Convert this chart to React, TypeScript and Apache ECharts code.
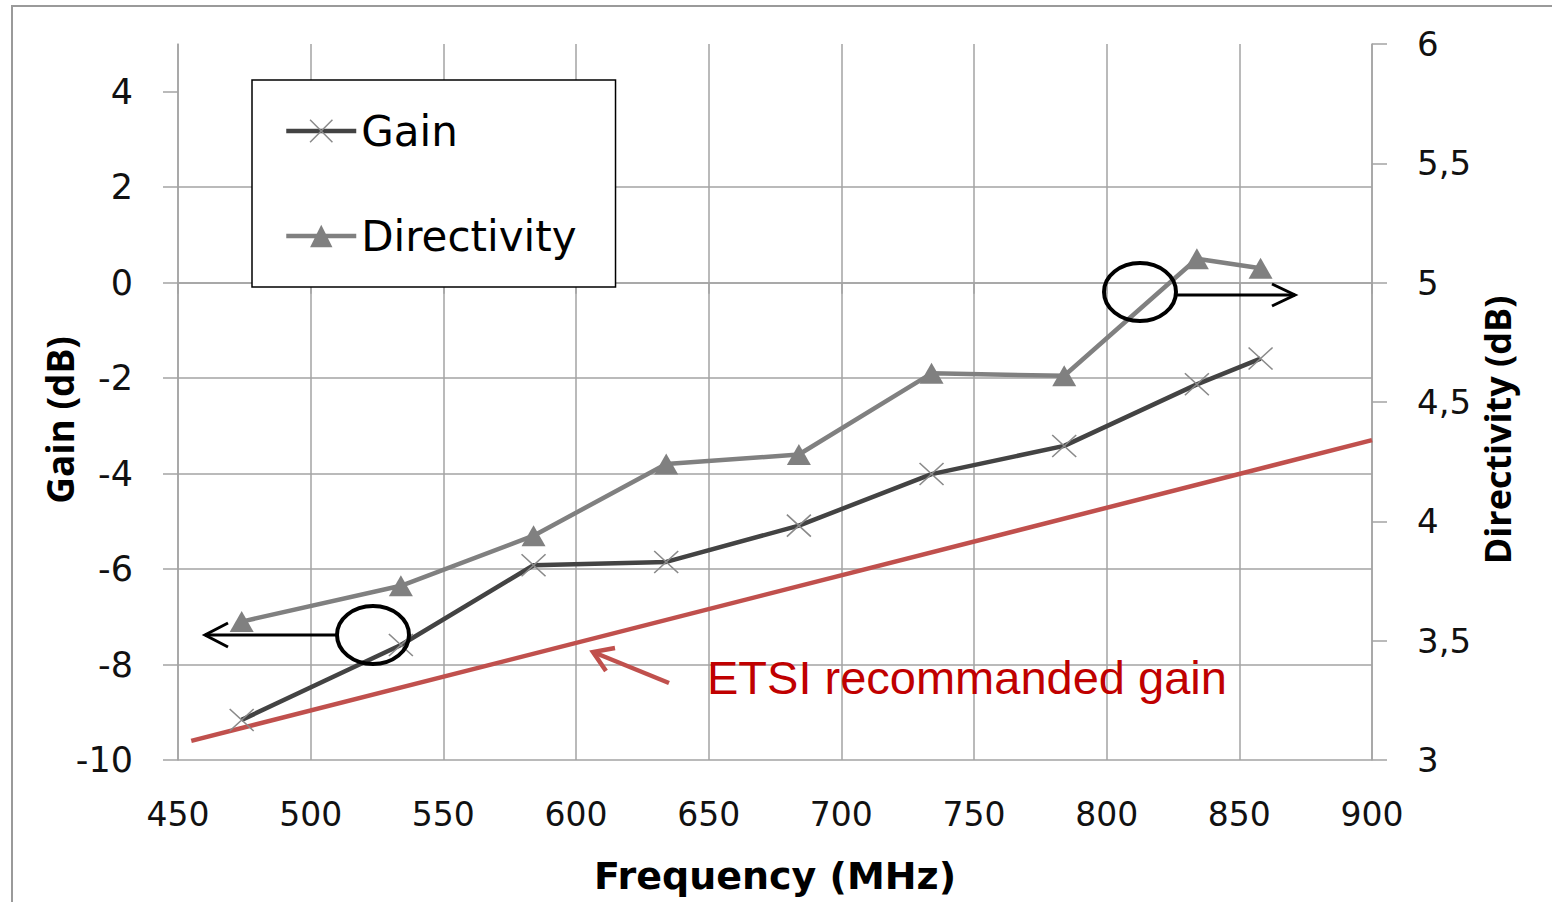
import React, { useEffect, useRef } from 'react';
import * as echarts from 'echarts';

// ---- data ----
const frequencies = [474, 534, 584, 634, 684, 734, 784, 834, 858];
const gainDb = [-9.16, -7.59, -5.92, -5.85, -5.09, -4.01, -3.42, -2.13, -1.59];
const directivityDb = [3.58, 3.73, 3.94, 4.24, 4.28, 4.62, 4.61, 5.1, 5.06];
const etsiFreq = [455, 900];
const etsiGain = [-9.6, -3.3];

const xMin = 450;
const xMax = 900;
const xStep = 50;
const gainMin = -10;
const gainMax = 5;
const gainStep = 2;
const gainTicks = [-10, -8, -6, -4, -2, 0, 2, 4];
const dirMin = 3;
const dirMax = 6;
const dirStep = 0.5;

const seriesNames = ['Gain', 'Directivity'];
const etsiLabel = 'ETSI recommanded gain';

const GRID = '#a3a3a3';
const LABEL_FONT = 'DejaVu Sans';
const GAIN_LINE = '#434343';
const GAIN_MARK = '#8a8a8a';
const DIR_COLOR = '#808080';

export default function App() {
  const ref = useRef<HTMLDivElement>(null);

  useEffect(() => {
    if (!ref.current) return;
    const chart = echarts.init(ref.current, null, { renderer: 'svg' });

    const gainData = frequencies.map((f, i) => [f, gainDb[i]]);
    const dirData = frequencies.map((f, i) => [f, directivityDb[i]]);
    const etsiData = etsiFreq.map((f, i) => [f, etsiGain[i]]);

    const axisLineStyle = { color: GRID, width: 1.5 };

    chart.setOption({
      animation: false,
      backgroundColor: '#ffffff',
      grid: { left: 178, right: 180, top: 44, bottom: 142, containLabel: false },
      legend: {
        data: [
          {
            name: seriesNames[0],
            lineStyle: { color: GAIN_LINE, width: 4.5 },
            itemStyle: { color: 'rgba(0,0,0,0)', borderColor: GAIN_MARK, borderWidth: 1.5 },
          },
          {
            name: seriesNames[1],
            lineStyle: { color: DIR_COLOR, width: 4.5 },
            itemStyle: { color: DIR_COLOR },
          },
        ],
        orient: 'vertical',
        left: 252,
        top: 80,
        itemWidth: 70,
        itemHeight: 28,
        itemGap: 55,
        padding: [26, 39, 26, 32],
        backgroundColor: '#ffffff',
        borderColor: '#000000',
        borderWidth: 1.5,
        textStyle: { fontFamily: LABEL_FONT, fontSize: 42, color: '#000', lineHeight: 50 },
      },
      xAxis: {
        type: 'value',
        min: xMin,
        max: xMax,
        interval: xStep,
        axisLine: { show: true, lineStyle: axisLineStyle },
        axisTick: { show: true, length: 11, lineStyle: axisLineStyle },
        axisLabel: { fontFamily: LABEL_FONT, fontSize: 33, color: '#111', margin: 38 },
        splitLine: { show: true, lineStyle: axisLineStyle },
        name: 'Frequency (MHz)',
        nameLocation: 'middle',
        nameGap: 97,
        nameTextStyle: { fontFamily: LABEL_FONT, fontWeight: 'bold', fontSize: 38, color: '#000' },
      },
      yAxis: [
        {
          type: 'value',
          position: 'left',
          min: gainMin,
          max: gainMax,
          interval: gainStep,
          axisLine: { show: true, lineStyle: axisLineStyle },
          axisTick: { show: true, length: 15, lineStyle: axisLineStyle, customValues: gainTicks },
          axisLabel: {
            fontFamily: LABEL_FONT,
            fontSize: 35,
            color: '#111',
            margin: 45,
            customValues: gainTicks,
            formatter: (v: number) => (v === gainMax ? '' : String(v)),
          },
          splitLine: { show: true, showMaxLine: false, lineStyle: axisLineStyle },
        },
        {
          type: 'value',
          position: 'right',
          min: dirMin,
          max: dirMax,
          interval: dirStep,
          axisLine: { show: true, lineStyle: axisLineStyle },
          axisTick: { show: true, length: 15, lineStyle: axisLineStyle },
          axisLabel: {
            fontFamily: LABEL_FONT,
            fontSize: 34,
            color: '#111',
            margin: 45,
            formatter: (v: number) => String(v).replace('.', ','),
          },
          splitLine: { show: false },
        },
      ],
      series: [
        {
          name: 'ETSI',
          type: 'line',
          yAxisIndex: 0,
          data: etsiData,
          showSymbol: false,
          symbol: 'none',
          silent: true,
          lineStyle: { color: '#c0504d', width: 4.5 },
          itemStyle: { color: '#c0504d' },
          z: 1,
        },
        {
          name: 'Gain',
          type: 'line',
          yAxisIndex: 0,
          data: gainData,
          symbol: 'path://M0,0L24,22M24,0L0,22',
          symbolSize: [24, 22],
          lineStyle: { color: GAIN_LINE, width: 4.5 },
          itemStyle: { color: 'rgba(0,0,0,0)', borderColor: GAIN_MARK, borderWidth: 1.5 },
          z: 3,
        },
        {
          name: 'Directivity',
          type: 'line',
          yAxisIndex: 1,
          data: dirData,
          symbol: 'triangle',
          symbolSize: [24, 21],
          lineStyle: { color: DIR_COLOR, width: 4.5 },
          itemStyle: { color: DIR_COLOR },
          z: 2,
        },
      ],
      graphic: [
        {
          type: 'rect',
          shape: { x: 12, y: 6, width: 1700, height: 1000 },
          style: { fill: 'none', stroke: '#9a9a9a', lineWidth: 2 },
          silent: true,
        },
        {
          type: 'text',
          x: 59,
          y: 420,
          rotation: Math.PI / 2,
          style: {
            text: 'Gain (dB)',
            font: 'bold 37px "Open Sans"',
            fill: '#000',
            align: 'center',
            verticalAlign: 'middle',
          },
        },
        {
          type: 'text',
          x: 1497,
          y: 430,
          rotation: Math.PI / 2,
          style: {
            text: 'Directivity (dB)',
            font: 'bold 36px "Open Sans"',
            fill: '#000',
            align: 'center',
            verticalAlign: 'middle',
          },
        },
        // left ellipse + arrow
        {
          type: 'ellipse',
          shape: { cx: 373, cy: 635, rx: 36, ry: 29 },
          style: { fill: 'none', stroke: '#000', lineWidth: 4 },
          z: 10,
        },
        {
          type: 'line',
          shape: { x1: 337, y1: 635, x2: 205, y2: 635 },
          style: { stroke: '#000', lineWidth: 3 },
          z: 10,
        },
        {
          type: 'polyline',
          shape: { points: [[228, 623], [205, 635], [228, 647]] },
          style: { stroke: '#000', lineWidth: 3, fill: 'none' },
          z: 10,
        },
        // right ellipse + arrow
        {
          type: 'ellipse',
          shape: { cx: 1140, cy: 292, rx: 36, ry: 29 },
          style: { fill: 'none', stroke: '#000', lineWidth: 4 },
          z: 10,
        },
        {
          type: 'line',
          shape: { x1: 1176, y1: 295, x2: 1295, y2: 295 },
          style: { stroke: '#000', lineWidth: 3 },
          z: 10,
        },
        {
          type: 'polyline',
          shape: { points: [[1272, 284], [1295, 295], [1272, 306]] },
          style: { stroke: '#000', lineWidth: 3, fill: 'none' },
          z: 10,
        },
        // red arrow + ETSI text
        {
          type: 'line',
          shape: { x1: 669, y1: 683, x2: 593, y2: 652 },
          style: { stroke: '#c0504d', lineWidth: 4.5 },
          z: 10,
        },
        {
          type: 'polyline',
          shape: { points: [[615, 648], [593, 652], [606, 671]] },
          style: { stroke: '#c0504d', lineWidth: 4.5, fill: 'none' },
          z: 10,
        },
        {
          type: 'text',
          x: 707,
          y: 677,
          style: {
            text: etsiLabel,
            font: '47px "Liberation Sans"',
            fill: '#c00000',
            align: 'left',
            verticalAlign: 'middle',
          },
          z: 10,
        },
      ],
    });

    return () => chart.dispose();
  }, []);

  return (
    <div
      ref={ref}
      style={{ position: 'fixed', left: 0, top: 0, width: 1552, height: 902, background: '#fff' }}
    />
  );
}
